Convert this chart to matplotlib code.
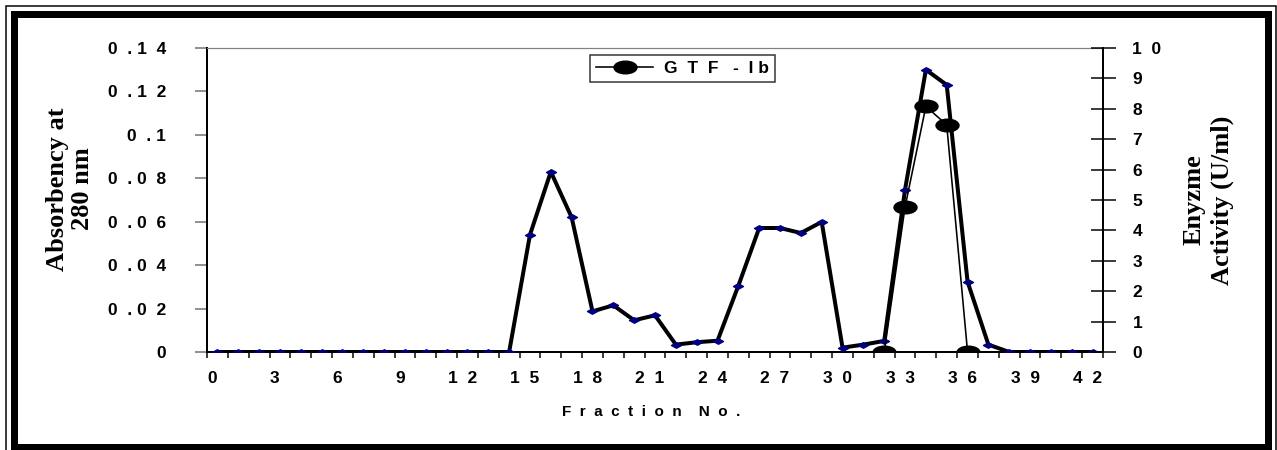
import matplotlib

matplotlib.use("Agg")
import matplotlib.pyplot as plt
from matplotlib.path import Path
from matplotlib.patches import Rectangle
from matplotlib.transforms import ScaledTranslation

W, H = 1277, 450

# ---- data ----
fractions = [0, 1, 2, 3, 4, 5, 6, 7, 8, 9, 10, 11, 12, 13, 14, 15, 16, 17, 18, 19, 20,
             21, 22, 23, 24, 25, 26, 27, 28, 29, 30, 31, 32, 33, 34, 35, 36, 37, 38, 39,
             40, 41, 42]
absorbance = [0, 0, 0, 0, 0, 0, 0, 0, 0, 0, 0, 0, 0, 0, 0,
              0.054, 0.083, 0.062, 0.0187, 0.0215, 0.0146, 0.0169, 0.0034, 0.0045,
              0.0052, 0.0305, 0.0571, 0.0571, 0.0548, 0.0599, 0.002, 0.0034, 0.0051,
              0.0748, 0.130, 0.123, 0.0324, 0.0034, 0, 0, 0, 0, 0]
act_fractions = [32, 33, 34, 35, 36]
activity = [0, 4.77, 8.08, 7.47, 0]

left_ticks = [0, 0.02, 0.04, 0.06, 0.08, 0.1, 0.12, 0.14]
left_labels = ["0", "0  . 0  2", "0  . 0  4", "0  . 0  6", "0  . 0  8", "0  . 1",
               "0  . 1  2", "0  . 1  4"]
right_ticks = [0, 1, 2, 3, 4, 5, 6, 7, 8, 9, 10]
right_labels = ["0", "1", "2", "3", "4", "5", "6", "7", "8", "9", "1  0"]
x_ticks = [0, 3, 6, 9, 12, 15, 18, 21, 24, 27, 30, 33, 36, 39, 42]
x_labels = ["0", "3", "6", "9", "1  2", "1  5", "1  8", "2  1", "2  4", "2  7",
            "3  0", "3  3", "3  6", "3  9", "4  2"]
x_bounds = [i - 0.5 for i in fractions] + [42.5]

SANS = "Liberation Sans"
SERIF = "Liberation Serif"
NAVY = "#000080"

_c = Path.unit_circle()
ELLIPSE = Path(_c.vertices * [1.0, 0.55], _c.codes)
DIAMOND = Path([(-1, 0), (0, 0.55), (1, 0), (0, -0.55), (-1, 0)],
               [Path.MOVETO, Path.LINETO, Path.LINETO, Path.LINETO, Path.CLOSEPOLY])


def px(v):
    return v * 72 / 100


fig = plt.figure(figsize=(W / 100, H / 100), dpi=100)
ax = fig.add_axes([207 / W, 1 - 352 / H, 896 / W, 304 / H])
ax2 = ax.twinx()

ax.plot(fractions, absorbance, color="black", lw=px(4), marker=DIAMOND,
        ms=px(10), mfc=NAVY, mec=NAVY, zorder=3)
ax2.plot(act_fractions, activity, color="black", lw=px(1.6), marker=ELLIPSE,
         ms=px(23), mfc="black", mec="black", label="G  T  F   -  I b", zorder=4)

ax.set_xlim(-0.5, 42.5)
ax.set_ylim(0, 0.14)
ax2.set_ylim(0, 10)

for s in ["left", "bottom"]:
    ax.spines[s].set_linewidth(px(2))
    ax.spines[s].set_color("black")
ax.spines["top"].set_color("#808080")
ax.spines["top"].set_linewidth(px(1.2))
ax.spines["right"].set_visible(False)
for s in ["left", "bottom", "top"]:
    ax2.spines[s].set_visible(False)
ax2.spines["right"].set_linewidth(px(2))

TICKFONT = dict(fontfamily=SANS, fontweight="bold", fontsize=12.5)

ax.set_yticks(left_ticks)
ax.set_yticklabels(left_labels, **TICKFONT)
ax.tick_params(axis="y", direction="out", length=px(12), width=px(1.5),
               color="#707070", pad=px(29))

ax2.set_yticks(right_ticks)
ax2.set_yticklabels(right_labels, **TICKFONT)
ax2.tick_params(axis="y", direction="inout", length=px(25), width=px(1.5),
                color="black", pad=px(17))

ax.set_xticks(x_ticks)
ax.set_xticklabels(x_labels, **TICKFONT)
ax.set_xticks(x_bounds, minor=True)
ax.tick_params(axis="x", which="major", length=0, pad=px(19))
ax.tick_params(axis="x", which="minor", direction="out", length=px(6),
               width=px(1.5), color="black")
shift = ScaledTranslation(-5 / 100, 0, fig.dpi_scale_trans)
for lab in ax.get_xticklabels():
    lab.set_transform(lab.get_transform() + shift)

fig.text(651 / W, 1 - 412 / H, "F  r  a  c  t  i  o  n    N  o  .", ha="center",
         va="center", fontfamily=SANS, fontweight="bold", fontsize=11)
fig.text(70 / W, 1 - 189 / H, "Absorbency at\n280 nm", rotation=90, ha="center",
         va="center", multialignment="center", fontfamily=SERIF, fontweight="bold",
         fontsize=19, linespacing=1.15)
fig.text(1208 / W, 1 - 200 / H, "Enyzme\nActivity (U/ml)", rotation=90, ha="center",
         va="center", multialignment="center", fontfamily=SERIF, fontweight="bold",
         fontsize=19, linespacing=1.3)

leg = ax2.legend(loc="upper left", bbox_to_anchor=(590 / W, 1 - 55 / H),
                 bbox_transform=fig.transFigure, frameon=True, fancybox=False,
                 prop={"family": SANS, "weight": "bold", "size": 12.5},
                 handlelength=3.3, handletextpad=0.6, borderpad=0.35,
                 borderaxespad=0)
leg.get_frame().set_edgecolor("black")
leg.get_frame().set_linewidth(px(1.5))

# double frame round the whole picture
fig.add_artist(Rectangle((6 / W, -0.01), 1269.5 / W, (H - 6) / H + 0.01,
                         transform=fig.transFigure, fill=False, lw=px(1.5),
                         ec="black"))
fig.add_artist(Rectangle((13.5 / W, 3.5 / H), 1254.5 / W, (H - 17) / H,
                         transform=fig.transFigure, fill=False, lw=px(7),
                         ec="black"))

fig.savefig("out.png", dpi=100)
